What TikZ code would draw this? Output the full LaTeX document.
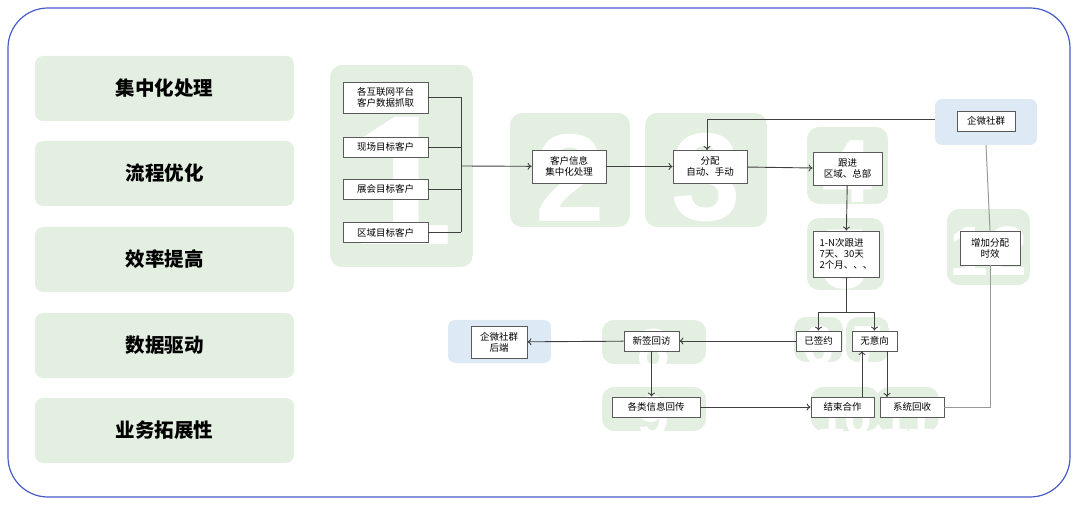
\documentclass[tikz,border=0pt]{standalone}
\usepackage{fontspec}
\setmainfont{Liberation Sans}
\newfontfamily\cjk{Noto Sans CJK SC}
\usetikzlibrary{arrows.meta}
\definecolor{gbg}{RGB}{227,239,225}
\definecolor{bbg}{RGB}{221,234,246}
\definecolor{frame}{RGB}{70,90,200}
\definecolor{bx}{RGB}{90,90,90}
\begin{document}
\begin{tikzpicture}[x=1pt,y=-1pt,
 num/.style={text=white,inner sep=0pt,font=\bfseries\fontsize{#1}{#1}\selectfont},
 bx/.style={draw=bx,line width=0.8pt,fill=white,font=\cjk\fontsize{9.5}{11}\selectfont,inner sep=2pt,align=center},
 ln/.style={draw=black!75,line width=0.9pt},
 ar/.style={ln,-{To[length=4pt,width=7pt]}},
 gl/.style={draw=black!40,line width=1pt}]
\useasboundingbox (0,0) rectangle (1080,505);
\draw[frame,line width=1.2pt,rounded corners=40pt] (8,8) rectangle (1070,497);
% left column
\foreach \y/\t in {56/集中化处理,141/流程优化,227/效率提高,313/数据驱动,398/业务拓展性}{
 \fill[gbg,rounded corners=8pt] (35,\y) rectangle (294,\y+65);
 \node[font=\cjk\bfseries\fontsize{19.5}{21}\selectfont] at (164.5,\y+32.5) {\t};}
% green backgrounds with numbers
\foreach \a/\b/\c/\d/\n/\s/\o in {330/65/473/267/1/185/15,510/113/630/227/2/125/8,645/113/767/227/3/125/8,807/127/888/204/4/90/6,807/218/884/290/5/85/6,947/209/1030/285/12/70/4,794/317/843/362/6/55/6,846/317/889/362/7/55/6,602/320/706/364/8/58/8,602/387/706/431/9/58/8,811/387/879/431/10/50/8,877/387/939/431/11/50/8}{
 \begin{scope}
 \path[clip,rounded corners=12pt] (\a,\b) rectangle (\c,\d);
 \fill[gbg] (\a,\b) rectangle (\c,\d);
 \node[num=\s] at ({(\a+\c)/2},{(\b+\d)/2+\o}) {\n};
 \end{scope}}
\fill[bbg,rounded corners=7pt] (935,99) rectangle (1037,145);
\fill[bbg,rounded corners=7pt] (448,320) rectangle (551,363);
% boxes
\node[bx,minimum width=85pt,minimum height=31pt] (a1) at (385.5,97.5) {各互联网平台\\客户数据抓取};
\node[bx,minimum width=85pt,minimum height=20pt] (a2) at (385.5,147) {现场目标客户};
\node[bx,minimum width=85pt,minimum height=20pt] (a3) at (385.5,189) {展会目标客户};
\node[bx,minimum width=85pt,minimum height=20pt] (a4) at (385.5,232.5) {区域目标客户};
\node[bx,minimum width=74pt,minimum height=33pt] (b) at (569,166.5) {客户信息\\集中化处理};
\node[bx,minimum width=74pt,minimum height=33pt] (c) at (710,166.5) {分配\\自动、手动};
\node[bx,minimum width=69pt,minimum height=33pt] (d) at (847.5,168.5) {跟进\\区域、总部};
\node[bx,minimum width=66pt,minimum height=46pt,align=left] (e) at (846,254) {1-N次跟进\\7天、30天\\2个月、、、};
\node[bx,minimum width=58pt,minimum height=20pt] (q) at (986,121) {企微社群};
\node[bx,minimum width=60pt,minimum height=34pt] (f) at (990,248) {增加分配\\时效};
\node[bx,minimum width=45pt,minimum height=20pt] (g) at (818.5,341) {已签约};
\node[bx,minimum width=45pt,minimum height=20pt] (h) at (874.5,341) {无意向};
\node[bx,minimum width=55pt,minimum height=20pt] (i) at (651.5,341) {新签回访};
\node[bx,minimum width=56pt,minimum height=32pt] (k) at (499,342) {企微社群\\后端};
\node[bx,minimum width=88pt,minimum height=20pt] (j) at (656,407) {各类信息回传};
\node[bx,minimum width=63pt,minimum height=20pt] (l) at (842.5,407) {结束合作};
\node[bx,minimum width=64pt,minimum height=20pt] (m) at (912,407) {系统回收};
% connectors
\coordinate (br) at (461,166);
\foreach \n in {a1,a2,a3,a4}{\draw[ln] (\n.east) -- (\n.east -| br);}
\draw[ln] (461,97.5) -- (461,232.5);
\draw[ar] (br) -- (b);
\draw[ar] (b) -- (c);
\draw[ar] (c) -- (d);
\draw[ar] (d) -- (e);
\coordinate (sp) at (846,312);
\draw[ln] (e.south) -- (sp);
\draw[ln] (818.5,312) -- (874.5,312);
\draw[ar] (818.5,312) -- (g.north);
\draw[ar] (874.5,312) -- (h.north);
\draw[ar] (g) -- (i);
\draw[ar] (i) -- (k);
\draw[ar] (i.south) -- (i.south |- j.north);
\draw[ar] (j) -- (l);
\draw[ar] (862,397) -- (862,351);
\draw[ar] (887,351) -- (887,397);
\draw[ar] (935,119) -- (707,119) -- (707,150);
\draw[gl] (986,145) -- (f.north);
\draw[gl] (m.east) -- (990,407) -- (f.south);
\end{tikzpicture}
\end{document}
